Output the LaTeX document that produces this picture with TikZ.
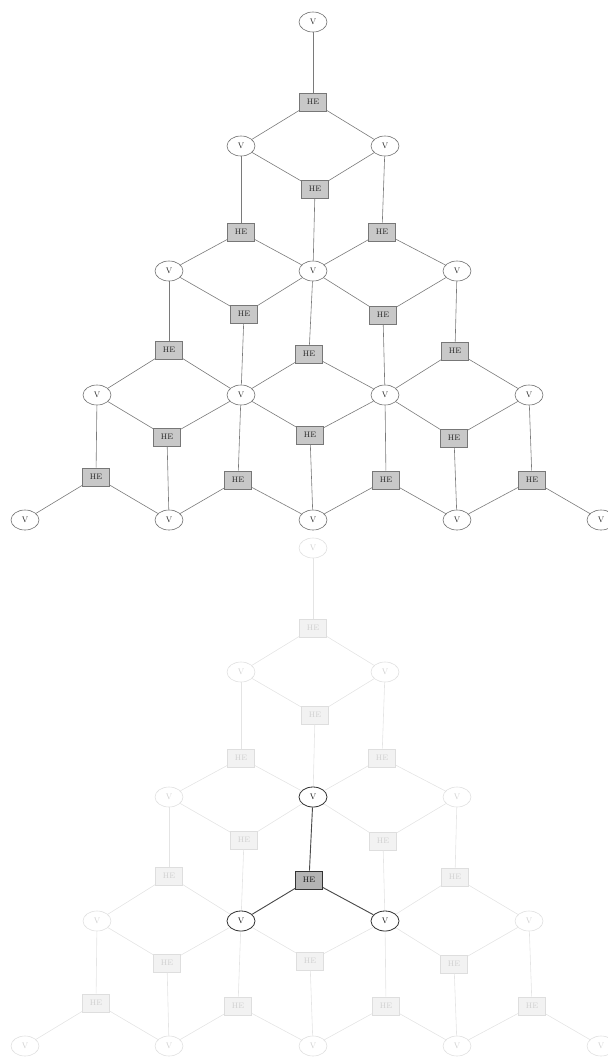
\documentclass[tikz,border=0pt]{standalone}
\usetikzlibrary{shapes.geometric}
\definecolor{edgeN}{HTML}{7A7A7A}
\definecolor{vbN}{HTML}{6E6E6E}
\definecolor{hefN}{HTML}{C8C8C8}
\definecolor{hebN}{HTML}{777777}
\definecolor{txtN}{HTML}{222222}
\definecolor{edgeF}{HTML}{E4E4E4}
\definecolor{vbF}{HTML}{E0E0E0}
\definecolor{hefF}{HTML}{F2F2F2}
\definecolor{hebF}{HTML}{DEDEDE}
\definecolor{txtF}{HTML}{CFCFCF}
\definecolor{edgeH}{HTML}{4A4A4A}
\definecolor{vbH}{HTML}{333333}
\definecolor{hefH}{HTML}{B4B4B4}
\definecolor{hebH}{HTML}{333333}
\definecolor{txtH}{HTML}{111111}
\tikzset{
  vbase/.style={ellipse, minimum width=28pt, minimum height=20pt, inner sep=0pt, fill=white, line width=0.6pt, font=\fontsize{8}{9}\selectfont},
  hebase/.style={rectangle, minimum width=27pt, minimum height=18pt, inner sep=0pt, line width=0.6pt, font=\fontsize{8}{9}\selectfont},
  vN/.style={vbase, draw=vbN, text=txtN},
  heN/.style={hebase, draw=hebN, fill=hefN, text=txtN},
  eN/.style={draw=edgeN, line width=0.6pt},
  vF/.style={vbase, draw=vbF, text=txtF},
  heF/.style={hebase, draw=hebF, fill=hefF, text=txtF},
  eF/.style={draw=edgeF, line width=0.6pt},
  vH/.style={vbase, draw=vbH, text=txtH, line width=0.8pt},
  heH/.style={hebase, draw=hebH, fill=hefH, text=txtH, line width=0.8pt},
  eH/.style={draw=edgeH, line width=0.9pt}
}
\def\vlist{v0/313/22, v1a/241/146, v1b/385/146, v2a/169/271, v2b/313/271, v2c/457/271, v3a/97/395, v3b/241/395, v3c/385/395, v3d/529/395, v4a/25/520, v4b/169/520, v4c/313/520, v4d/457/520, v4e/601/520}
\def\helist{u0/313/102/{v0,v1a,v1b}, u1a/241/232/{v1a,v2a,v2b}, u1b/382/232/{v1b,v2b,v2c}, u2a/169/350/{v2a,v3a,v3b}, u2b/309/354/{v2b,v3b,v3c}, u2c/455/351/{v2c,v3c,v3d}, u3a/96/477/{v3a,v4a,v4b}, u3b/238/480/{v3b,v4b,v4c}, u3c/386/480/{v3c,v4c,v4d}, u3d/532/480/{v3d,v4d,v4e}, d1/315/189/{v1a,v1b,v2b}, d2a/244/314/{v2a,v2b,v3b}, d2b/383/315/{v2b,v2c,v3c}, d3a/167/437/{v3a,v3b,v4b}, d3b/310/435/{v3b,v3c,v4c}, d3c/454/438/{v3c,v3d,v4d}}
\begin{document}
\begin{tikzpicture}[x=1pt,y=-1pt]
\useasboundingbox (0,0) rectangle (608,1061);
\clip (0,0) rectangle (608,1061);
% ---- top: full hypergraph ----
\foreach \n/\x/\y in \vlist { \node[vN] (T\n) at (\x,\y) {V}; }
\foreach \n/\x/\y/\vs in \helist {
  \node[heN] (T\n) at (\x,\y) {HE};
  \foreach \v in \vs { \draw[eN] (T\n) -- (T\v); }
}
% ---- bottom: faded hypergraph with one highlighted hyperedge ----
\begin{scope}[yshift=-526pt]
\foreach \n/\x/\y in \vlist { \node[vF] (B\n) at (\x,\y) {V}; }
\foreach \n/\x/\y/\vs in \helist {
  \node[heF] (B\n) at (\x,\y) {HE};
  \foreach \v in \vs { \draw[eF] (B\n) -- (B\v); }
}
\node[vH] (Hv2b) at (313,271) {V};
\node[vH] (Hv3b) at (241,395) {V};
\node[vH] (Hv3c) at (385,395) {V};
\node[heH] (Hu2b) at (309,354) {HE};
\draw[eH] (Hu2b) -- (Hv2b);
\draw[eH] (Hu2b) -- (Hv3b);
\draw[eH] (Hu2b) -- (Hv3c);
\end{scope}
\end{tikzpicture}
\end{document}
